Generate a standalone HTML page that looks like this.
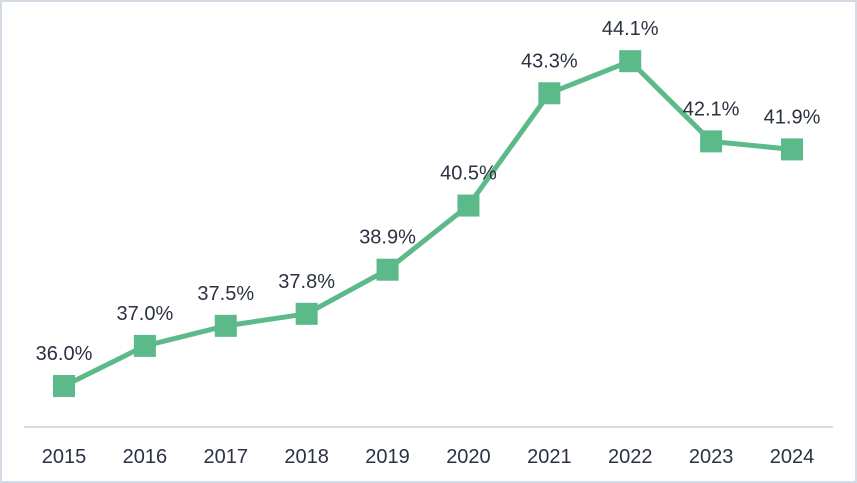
<!DOCTYPE html>
<html><head><meta charset="utf-8"><style>
html,body{margin:0;padding:0;background:#fff;}
svg{display:block;font-family:"Liberation Sans",Arial,sans-serif;}
</style></head><body>
<svg id="chart" width="857" height="483" viewBox="0 0 857 483">
<rect x="1" y="1" width="855" height="481" fill="#fff" stroke="#d5dbe5" stroke-width="2"/>
<line x1="24" y1="427" x2="833" y2="427" stroke="#d5dbe5" stroke-width="2"/>
<g id="g"></g>
</svg>
<script>
const categories=["2015","2016","2017","2018","2019","2020","2021","2022","2023","2024"];
const values=[36.0,37.0,37.5,37.8,38.9,40.5,43.3,44.1,42.1,41.9];
const valueLabels=["36.0%","37.0%","37.5%","37.8%","38.9%","40.5%","43.3%","44.1%","42.1%","41.9%"];
const NS="http://www.w3.org/2000/svg";
const g=document.getElementById('g');
function xPos(i){return 64+i*(792-64)/(categories.length-1);}
function yPos(v){return 386-(v-36.0)*40.1;}
function mk(t,a){const e=document.createElementNS(NS,t);for(const k in a)e.setAttribute(k,a[k]);return e;}
const line=mk('polyline',{points:values.map((v,i)=>xPos(i)+','+yPos(v)).join(' '),fill:'none',stroke:'#5cb98a','stroke-width':5,'stroke-linejoin':'round'});


g.appendChild(line);
values.forEach((v,i)=>{
 const r=mk('rect',{x:xPos(i)-11,y:yPos(v)-11,width:22,height:22,fill:'#5cb98a'});
 
 
 g.appendChild(r);
 const t=mk('text',{x:xPos(i),y:yPos(v)-26,'text-anchor':'middle','font-size':20,fill:'#2b3142'});
 t.textContent=valueLabels[i];
 
 
 g.appendChild(t);
 const c=mk('text',{x:xPos(i),y:463,'text-anchor':'middle','font-size':20,fill:'#2b3142'});
 c.textContent=categories[i];
 
 
 g.appendChild(c);
});
</script>
</body></html>
